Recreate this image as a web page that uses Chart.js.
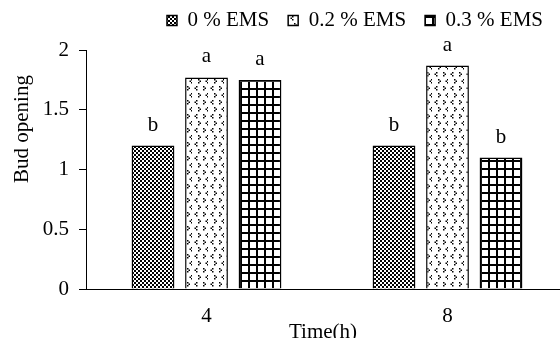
<!DOCTYPE html>
<html>
<head>
<meta charset="utf-8">
<script src="https://cdn.jsdelivr.net/npm/chart.js@4.4.3/dist/chart.umd.min.js"></script>
<style>
  html, body { margin: 0; padding: 0; overflow: hidden; background: #fff; }
  canvas { display: block; }
</style>
</head>
<body>
<canvas id="chart" width="710" height="338"></canvas>
<script>
const categories = ['4', '8'];
const seriesNames = ['0 % EMS', '0.2 % EMS', '0.3 % EMS'];
const ems0 = [1.2, 1.2];
const ems02 = [1.77, 1.87];
const ems03 = [1.75, 1.1];
const letters0 = ['b', 'b'];
const letters02 = ['a', 'a'];
const letters03 = ['a', 'b'];
const yTicks = [0, 0.5, 1, 1.5, 2];
const xTitle = 'Time(h)';
const yTitle = 'Bud opening';

const FONT = "'Liberation Serif', 'Times New Roman', serif";
Chart.defaults.font.family = FONT;
Chart.defaults.font.size = 21;
Chart.defaults.color = '#000';

function makePattern(w, h, paint) {
  const c = document.createElement('canvas');
  c.width = w;
  c.height = h;
  const g = c.getContext('2d');
  g.fillStyle = '#fff';
  g.fillRect(0, 0, w, h);
  g.fillStyle = '#000';
  paint(g);
  return g.createPattern(c, 'repeat');
}

// fine checkerboard
const checker = makePattern(4, 4, (g) => {
  g.fillRect(0, 0, 2, 2);
  g.fillRect(2, 2, 2, 2);
});

// sparse little chevrons
const dots = makePattern(16, 14, (g) => {
  const px = (x, y) => g.fillRect(x, y, 1.5, 1.5);
  // "<"
  px(4, 2); px(2.5, 3.5); px(4, 5);
  // ">"
  px(11, 2); px(12.5, 3.5); px(11, 5);
  // second row, shifted
  px(6, 9); px(7.5, 10.5); px(6, 12);
  px(15, 9); px(13.5, 10.5); px(15, 12);
});

// square grid
const grid = makePattern(8, 8, (g) => {
  g.fillRect(0, 0, 8, 2);
  g.fillRect(0, 0, 2, 8);
});

const letterSets = [letters0, letters02, letters03];

const letterPlugin = {
  id: 'letters',
  afterDatasetsDraw(chart) {
    const ctx = chart.ctx;
    ctx.save();
    ctx.font = '21px ' + FONT;
    ctx.fillStyle = '#000';
    ctx.textAlign = 'center';
    ctx.textBaseline = 'alphabetic';
    chart.data.datasets.forEach((ds, i) => {
      chart.getDatasetMeta(i).data.forEach((bar, j) => {
        ctx.fillText(letterSets[i][j], bar.x, bar.y - 15);
      });
    });
    ctx.restore();
  },
};

const axisTitlePlugin = {
  id: 'axisTitles',
  afterDraw(chart) {
    const ctx = chart.ctx;
    ctx.save();
    ctx.font = '21px ' + FONT;
    ctx.fillStyle = '#000';
    ctx.textAlign = 'center';
    ctx.textBaseline = 'alphabetic';
    ctx.fillText(xTitle, 323, 338);
    ctx.translate(28, 129);
    ctx.rotate(-Math.PI / 2);
    ctx.fillText(yTitle, 0, 0);
    ctx.restore();
  },
};

const barStyle = { borderColor: '#000', borderWidth: 1.5, categoryPercentage: 0.666, barPercentage: 0.8 };

new Chart(document.getElementById('chart'), {
  type: 'bar',
  data: {
    labels: categories,
    datasets: [
      { label: seriesNames[0], data: ems0, backgroundColor: checker, ...barStyle },
      { label: seriesNames[1], data: ems02, backgroundColor: dots, ...barStyle },
      { label: seriesNames[2], data: ems03, backgroundColor: grid, ...barStyle },
    ],
  },
  options: {
    responsive: false,
    animation: false,
    layout: { padding: { top: -9, left: 0, right: 0, bottom: 0 } },
    plugins: {
      legend: {
        position: 'top',
        labels: { boxWidth: 10, boxHeight: 10, padding: 19, color: '#000', font: { size: 21 } },
      },
      tooltip: { enabled: false },
    },
    scales: {
      x: {
        grid: { display: false },
        border: { display: true, color: '#000', width: 1 },
        ticks: { padding: 7, color: '#000' },
        afterFit: (s) => { s.height = 49; },
      },
      y: {
        min: 0,
        max: 2,
        afterBuildTicks: (s) => { s.ticks = yTicks.map((v) => ({ value: v })); },
        grid: { drawOnChartArea: false, drawTicks: true, tickLength: 7, color: '#000' },
        border: { display: true, color: '#000', width: 1 },
        ticks: { padding: 10, color: '#000', callback: (v) => String(v) },
        afterFit: (s) => { s.width = 86; },
      },
      padTop: {
        type: 'linear',
        position: 'top',
        grid: { display: false },
        border: { display: false },
        ticks: { display: false },
        afterFit: (s) => { s.height = 9; },
      },
      pad: {
        type: 'linear',
        position: 'right',
        grid: { display: false },
        border: { display: false },
        ticks: { display: false },
        afterFit: (s) => { s.width = 142; },
      },
    },
  },
  plugins: [letterPlugin, axisTitlePlugin],
});
</script>
</body>
</html>
